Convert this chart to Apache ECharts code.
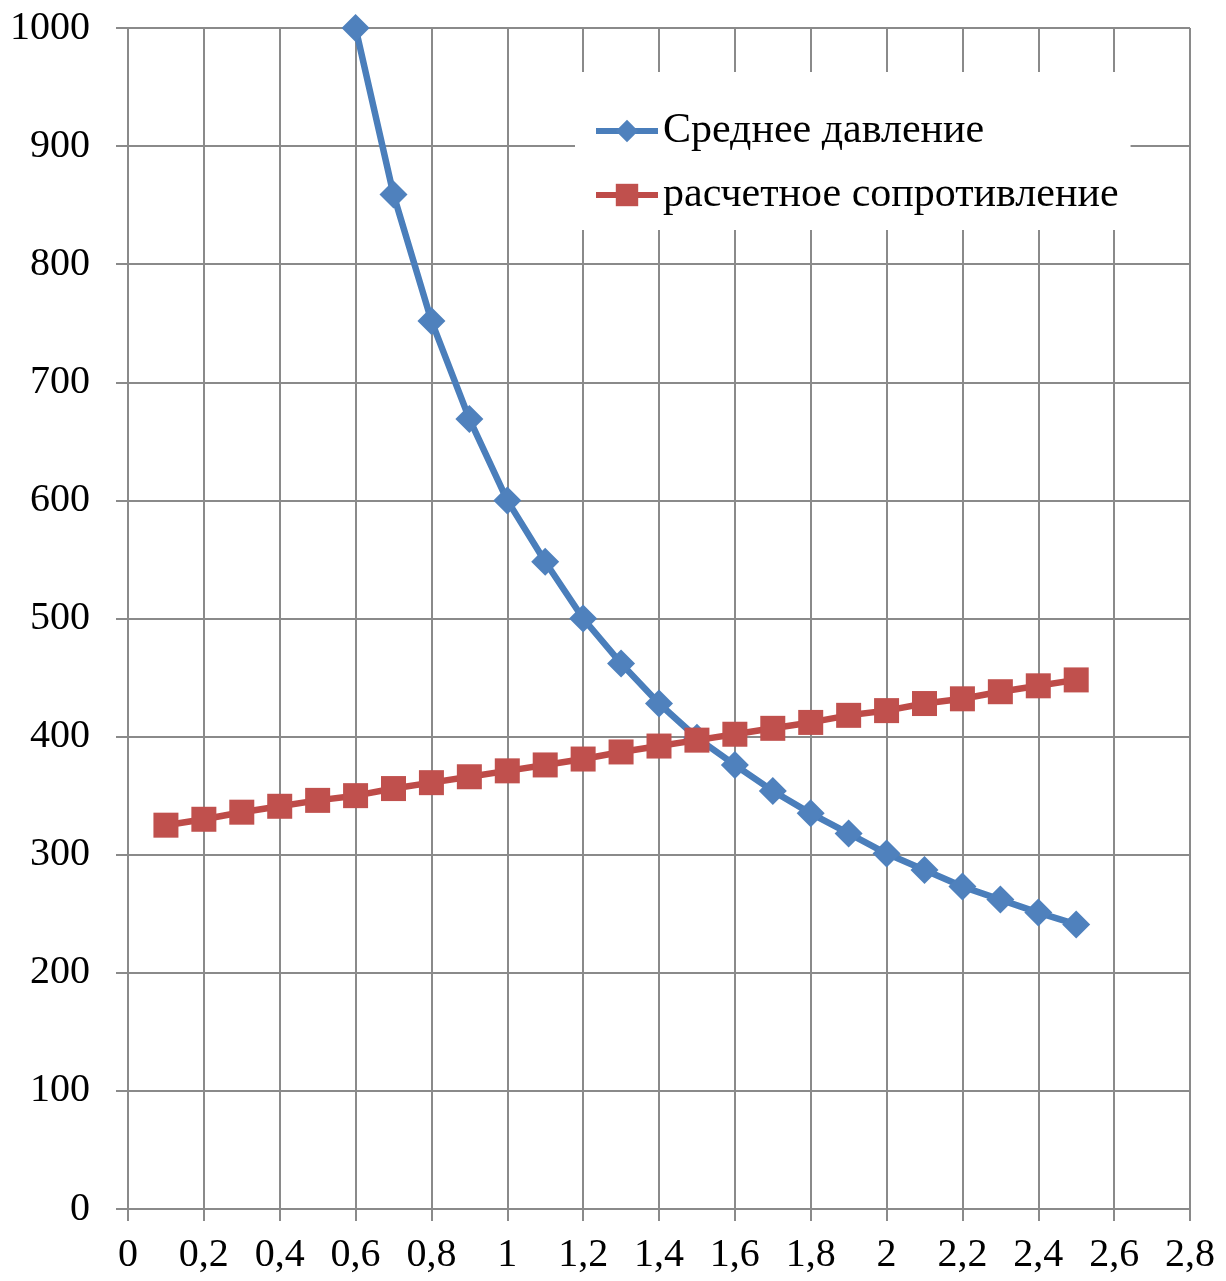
<!DOCTYPE html>
<html>
<head>
<meta charset="utf-8">
<script src="https://cdn.jsdelivr.net/npm/echarts@6/dist/echarts.min.js"></script>
<style>
html,body{margin:0;padding:0;background:#fff;}
#chart{width:1226px;height:1281px;}
</style>
</head>
<body>
<div id="chart"></div>
<script>
// Data
const pressureName = 'Среднее давление';
const resistanceName = 'расчетное сопротивление';
const pressureX = [0.6,0.7,0.8,0.9,1.0,1.1,1.2,1.3,1.4,1.5,1.6,1.7,1.8,1.9,2.0,2.1,2.2,2.3,2.4,2.5];
const pressureY = [1000,859,752,669,600,548,500,462,428,399,376,354,335,318,301,287,273,262,251,241];
const resistanceX = [0.1,0.2,0.3,0.4,0.5,0.6,0.7,0.8,0.9,1.0,1.1,1.2,1.3,1.4,1.5,1.6,1.7,1.8,1.9,2.0,2.1,2.2,2.3,2.4,2.5];
const resistanceY = [325,330,336,341,346,350,356,361,366,371,376,381,387,392,397,402,407,412,418,422,428,432,438,443,448];

const FONT = '"Liberation Serif","Times New Roman",serif';
const GRID_COLOR = '#8a8a8a';

const chart = echarts.init(document.getElementById('chart'), null, {renderer: 'canvas'});
chart.setOption({
  backgroundColor: '#ffffff',
  animation: false,
  textStyle: {fontFamily: FONT},
  grid: {left: 128, right: 36, top: 28, bottom: 72, containLabel: false},
  legend: {
    orient: 'vertical',
    left: 575,
    top: 72,
    backgroundColor: '#ffffff',
    padding: [38, 12, 14, 18],
    itemGap: 22,
    itemWidth: 62,
    itemHeight: 28,
    lineStyle: {width: 6},
    textStyle: {fontFamily: FONT, fontSize: 42, color: '#000'},
    data: [pressureName, resistanceName]
  },
  xAxis: {
    type: 'value',
    min: 0,
    max: 2.8,
    interval: 0.2,
    axisLine: {show: true, lineStyle: {color: GRID_COLOR, width: 2}},
    axisTick: {show: true, length: 12, lineStyle: {color: GRID_COLOR, width: 2}},
    splitLine: {show: true, lineStyle: {color: GRID_COLOR, width: 2}},
    axisLabel: {
      margin: 26,
      fontFamily: FONT, fontSize: 40, color: '#000',
      formatter: v => String(+(+v).toFixed(1)).replace('.', ',')
    }
  },
  yAxis: {
    type: 'value',
    min: 0,
    max: 1000,
    interval: 100,
    axisLine: {show: true, lineStyle: {color: GRID_COLOR, width: 2}},
    axisTick: {show: true, length: 12, lineStyle: {color: GRID_COLOR, width: 2}},
    splitLine: {show: true, lineStyle: {color: GRID_COLOR, width: 2}},
    axisLabel: {margin: 38, fontFamily: FONT, fontSize: 40, color: '#000', formatter: v => String(v)}
  },
  series: [
    {
      name: pressureName,
      type: 'line',
      data: pressureX.map((x, i) => [x, pressureY[i]]),
      symbol: 'diamond',
      symbolSize: 28,
      lineStyle: {color: '#4A7EBB', width: 6.5},
      itemStyle: {color: '#4F81BD'},
      z: 2
    },
    {
      name: resistanceName,
      type: 'line',
      data: resistanceX.map((x, i) => [x, resistanceY[i]]),
      symbol: 'rect',
      symbolSize: 25,
      lineStyle: {color: '#BE4B48', width: 6.5},
      itemStyle: {color: '#C0504D'},
      z: 3
    }
  ]
});
</script>
</body>
</html>
